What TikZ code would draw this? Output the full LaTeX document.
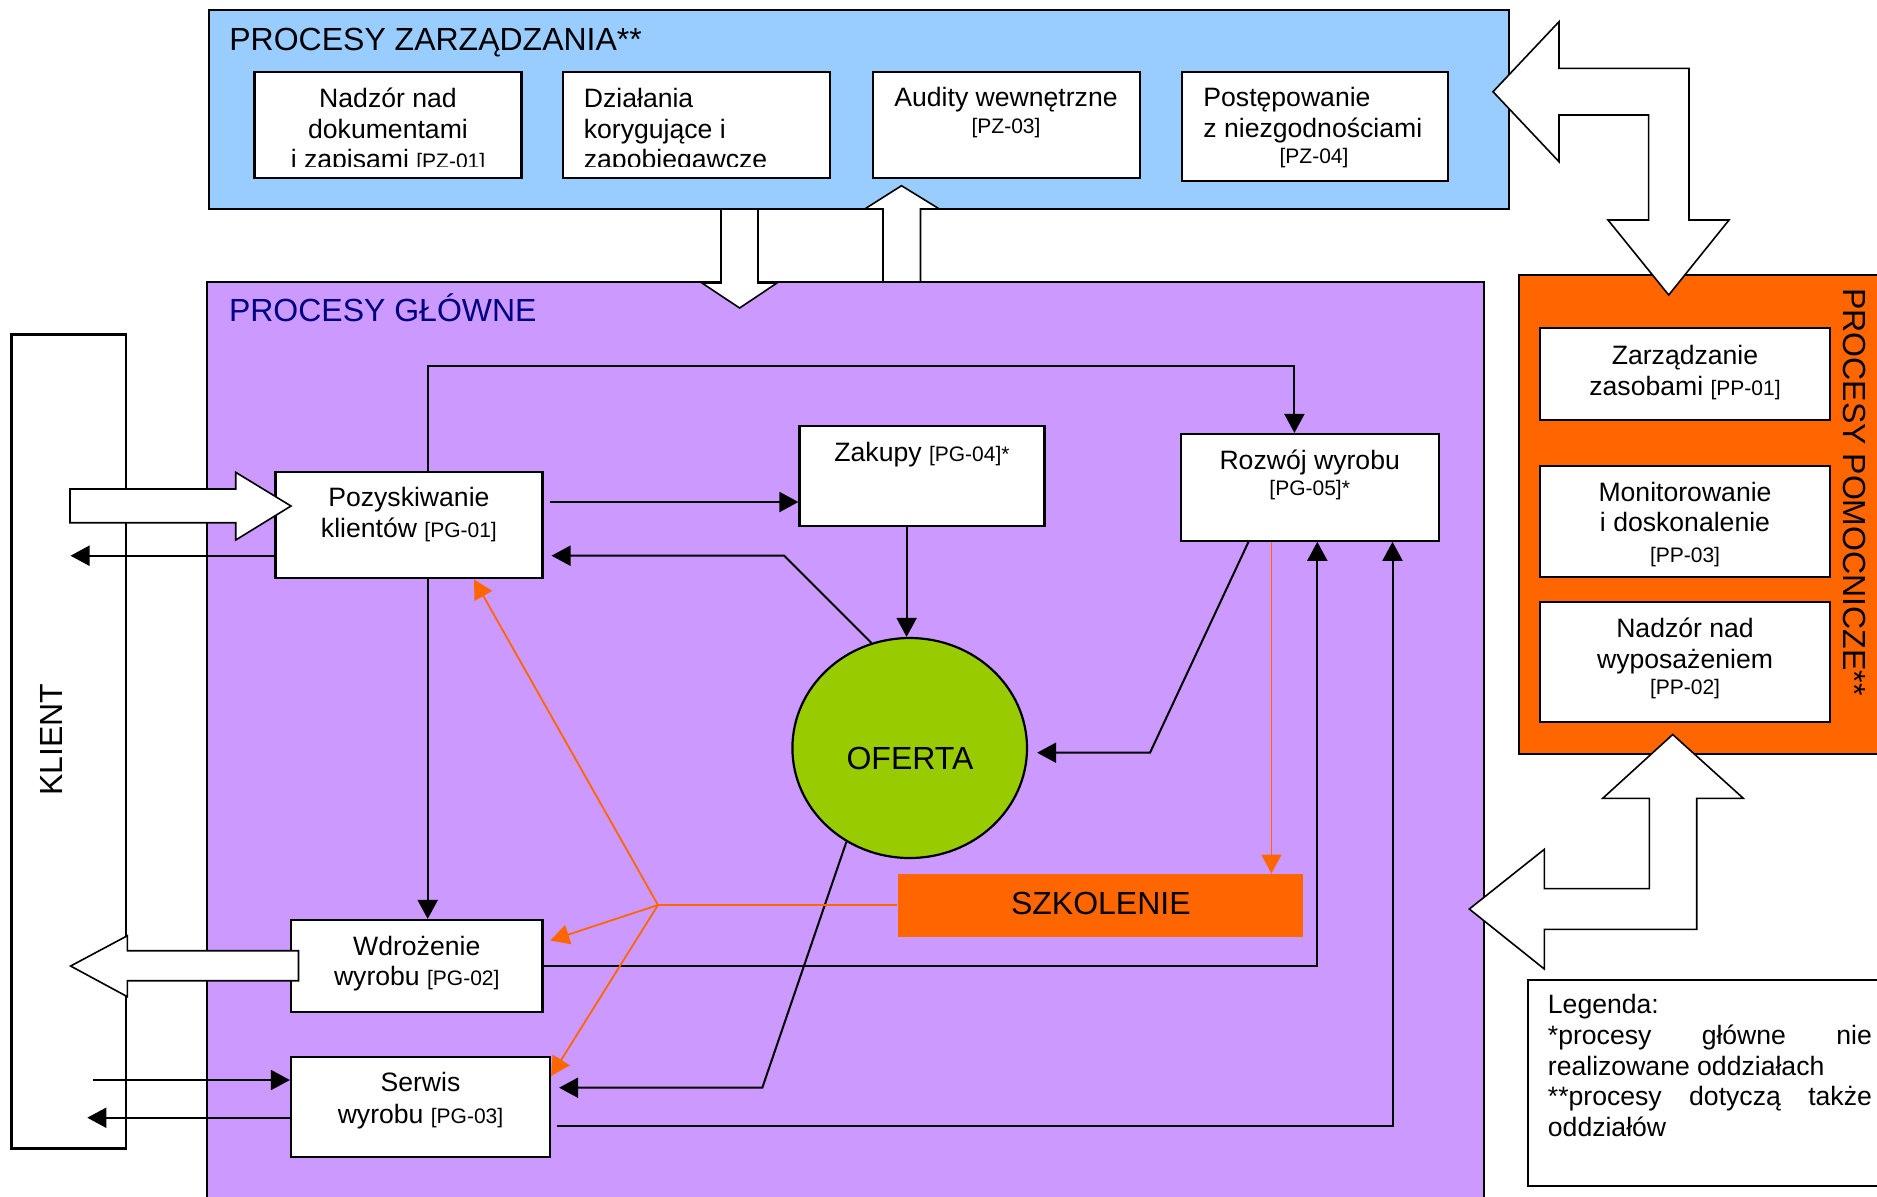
\documentclass[tikz,border=0pt]{standalone}
\usepackage{fontspec}
\setmainfont{Liberation Sans}
\usetikzlibrary{arrows.meta,shapes.geometric}
\definecolor{zarz}{HTML}{99CCFF}
\definecolor{glow}{HTML}{CC99FF}
\definecolor{pomoc}{HTML}{FF6600}
\definecolor{ofertac}{HTML}{99CC00}
\definecolor{granat}{HTML}{000080}
\newcommand\kod{\fontsize{10.5pt}{12pt}\selectfont}

\begin{document}
\begin{tikzpicture}[x=0.5pt,y=-0.5pt,
  panel/.style={draw, line width=1.1pt, inner sep=0pt},
  box/.style={draw, line width=1.1pt, fill=white, inner sep=0pt},
  txt/.style={anchor=base, inner sep=0pt, font=\fontsize{13.3pt}{15.5pt}\selectfont},
  txtl/.style={txt, anchor=base west},
  kodtxt/.style={anchor=base, inner sep=0pt, font=\kod},
  title/.style={inner sep=0pt, font=\fontsize{16pt}{19pt}\selectfont},
  conn/.style={line width=1pt, -{Triangle[length=9.5pt,width=10pt]}},
  oline/.style={draw=pomoc, line width=0.9pt},
  oconn/.style={oline, -{Triangle[length=9.5pt,width=10pt]}},
  blockarrow/.style={draw, fill=white, line width=0.8pt, line join=miter},
]
\useasboundingbox (0,0) rectangle (1877,1196);

% ---- panels ----
\node[panel, fill=zarz, minimum width=650pt, minimum height=99.5pt] (pz) at (859,109.5) {};
\node[panel, fill=glow, minimum width=638.5pt, minimum height=469pt] (pg) at (845.5,751) {};
\node[panel, fill=pomoc, minimum width=190.5pt, minimum height=239.35pt] (pp) at (1709.5,514.65) {};
\node[box, minimum width=57.25pt, minimum height=407pt] (klient) at (68.75,741.5) {};
\node[box, minimum width=186.1pt, minimum height=102.85pt] (leg) at (1713.9,1082.85) {};

% ---- management processes ----
\node[box, minimum width=133.5pt, minimum height=53.3pt] (pz1) at (388,125) {};
\node[box, minimum width=133.5pt, minimum height=53.3pt] (pz2) at (696.5,125) {};
\node[box, minimum width=133.5pt, minimum height=53.3pt] (pz3) at (1006.25,125) {};
\node[box, minimum width=133pt, minimum height=54.65pt] (pz4) at (1315,126.35) {};

% ---- main processes ----
\node[box, minimum width=133.5pt, minimum height=53pt] (pg1) at (408.9,525.3) {};
\node[box, minimum width=122.45pt, minimum height=49.85pt] (pg4) at (921.95,475.85) {};
\node[box, minimum width=129.1pt, minimum height=53.35pt] (pg5) at (1309.7,487.35) {};
\node[box, minimum width=125.75pt, minimum height=46.15pt] (pg2) at (416.75,966.15) {};
\node[box, minimum width=129.5pt, minimum height=49.7pt] (pg3) at (420.5,1107) {};
\node[ellipse, draw, line width=1.1pt, fill=ofertac, minimum width=117.3pt, minimum height=110pt, inner sep=0pt] (of) at (909.7,748) {};
\node[fill=pomoc, minimum width=202.7pt, minimum height=31.35pt, inner sep=0pt] (szk) at (1100.5,905.35) {};

% ---- support processes ----
\node[box, minimum width=145pt, minimum height=46pt] (pp1) at (1685,374) {};
\node[box, minimum width=145pt, minimum height=55.85pt] (pp3) at (1685,521.45) {};
\node[box, minimum width=145pt, minimum height=59.95pt] (pp2) at (1685,661.75) {};

% ---- helper points for connector routes ----
\coordinate (xa) at (427.7,0);
\coordinate (tb1) at (427.7,365.7);
\coordinate (tb2) at (1294.4,365.7);
\coordinate (yb) at (0,502);
\coordinate (xc) at (906.6,0);
\coordinate (ofbend) at (784.2,555.7);
\coordinate (xr) at (1248.5,0);
\coordinate (rzbend) at (1150,752.7);
\coordinate (yf) at (0,966);
\coordinate (xf) at (1317.3,0);
\coordinate (yg) at (0,1125.7);
\coordinate (xg) at (1392.5,0);
\coordinate (klout1) at (70.5,555.7);
\coordinate (klin) at (93,1080);
\coordinate (klout2) at (87.3,1117.7);
\coordinate (ofbend2) at (762.3,1087.7);
\coordinate (xk) at (1271.4,0);
\coordinate (junc) at (658,905);
\coordinate (xl) at (474,0);
\coordinate (ym) at (0,942.7);
\coordinate (yn) at (0,1076);

% ---- connectors ----
\draw[conn, shorten <=3pt] (pg1.east |- yb) -- (pg4.west |- yb);
\draw[conn] (pg1.north -| xa) -- (tb1) -- (tb2) -- (pg5.north -| tb2);
\draw[conn] (pg4.south -| xc) -- (of.north -| xc);
\draw[conn, shorten >=4pt] (of.110.8) -- (ofbend) -- (pg1.east |- ofbend);
\draw[conn, shorten >=4.5pt] (pg5.south -| xr) -- (rzbend) -- (of.east |- rzbend);
\draw[conn] (pg2.east |- yf) -- (xf |- yf) -- (pg5.south -| xf);
\draw[conn, shorten <=3pt] (pg3.east |- yg) -- (xg |- yg) -- (pg5.south -| xg);
\draw[conn] (pg1.south -| xa) -- (pg2.north -| xa);
\draw[conn] (pg1.west |- klout1) -- (klout1);
\draw[conn] (klin) -- (pg3.west |- klin);
\draw[conn] (pg3.west |- klout2) -- (klout2);
\draw[conn, shorten >=4pt] (of.236.35) -- (ofbend2) -- (pg3.east |- ofbend2);

% training links
\draw[oconn, line width=0.5pt] (pg5.south -| xk) -- (szk.north -| xk);
\draw[oline] (szk.west |- junc) -- (junc);
\draw[oconn] (junc) -- (pg1.south -| xl);
\draw[oconn, shorten >=3.5pt] (junc) -- (pg2.east |- ym);
\draw[oconn] (junc) -- (pg3.east |- yn);

% ---- block arrows ----
\draw[blockarrow] (721,209) -- (758,209) -- (758,283) -- (777,283) -- (739.6,308) -- (702,283) -- (721,283) -- cycle;
\draw[blockarrow] (883,282) -- (883,209) -- (864.7,209) -- (901.5,185.7) -- (939.4,209) -- (920.5,209) -- (920.5,282) -- cycle;
\draw[blockarrow] (1493,91.7) -- (1559,21.7) -- (1559,68.3) -- (1689,68.3) -- (1689,220) -- (1729,220) -- (1668.7,295) -- (1608,220) -- (1648.6,220) -- (1648.6,115) -- (1559,115) -- (1559,161.7) -- cycle;
\draw[blockarrow] (1672.7,734.5) -- (1743.3,798.3) -- (1696.7,798.3) -- (1696.7,929.4) -- (1544.3,929.4) -- (1544.3,969) -- (1469.3,909) -- (1544.3,849.3) -- (1544.3,888.6) -- (1649.3,888.6) -- (1649.3,798.3) -- (1602.7,798.3) -- cycle;
\draw[blockarrow] (70,489) -- (235.7,489) -- (235.7,472.3) -- (291,506) -- (235.7,540) -- (235.7,522.7) -- (70,522.7) -- cycle;
\draw[blockarrow] (298.5,950.7) -- (127.4,950.7) -- (127.4,935.7) -- (70.6,966) -- (127.4,996.7) -- (127.4,980.7) -- (298.5,980.7) -- cycle;

% ---- titles ----
\node[title, anchor=base west] (tpz) at (229,50) {PROCESY ZARZĄDZANIA**};
\node[title, anchor=base west, text=granat] (tpg) at (228.6,321.7) {PROCESY GŁÓWNE};
\node[title, anchor=base west, rotate=-90] (tpp) at (1843,288) {PROCESY POMOCNICZE**};
\node[title, anchor=base west, rotate=90] (tkl) at (62.5,796) {KLIENT};
\node[title, anchor=base] (tof) at (910,769) {OFERTA};
\node[title, anchor=base] (tsz) at (1100.8,914) {SZKOLENIE};

% ---- texts of management boxes (clipped at the inner margin) ----
\begin{scope}
\clip (254.5,71.7) rectangle (521.5,166.5);
\node[txt] (pz1a) at (388,107) {Nadzór nad};
\node[txt] (pz1b) at (388,138) {dokumentami};
\node[txt] (pz1c) at (388,168) {i zapisami {\kod [PZ-01]}};
\end{scope}
\begin{scope}
\clip (563,71.7) rectangle (830,166.5);
\node[txtl] (pz2a) at (583.5,107) {Działania};
\node[txtl] (pz2b) at (583.5,138) {korygujące i};
\node[txtl] (pz2c) at (583.5,168) {zapobiegawcze};
\end{scope}
\node[txt] (pz3a) at (1006,106) {Audity wewnętrzne};
\node[kodtxt] (pz3b) at (1006,133) {[PZ-03]};
\node[txtl] (pz4a) at (1203,106) {Postępowanie};
\node[txtl] (pz4b) at (1203,137) {z niezgodnościami};
\node[kodtxt] (pz4c) at (1314,163) {[PZ-04]};

% ---- texts of main process boxes ----
\node[txt] (pg1a) at (408.9,506.7) {Pozyskiwanie};
\node[txt] (pg1b) at (408.9,537.3) {klientów {\kod [PG-01]}};
\node[txt] (pg4a) at (922,461.7) {Zakupy {\kod [PG-04]*}};
\node[txt] (pg5a) at (1309.7,469.3) {Rozwój wyrobu};
\node[kodtxt] (pg5b) at (1309.7,495) {[PG-05]*};
\node[txt] (pg2a) at (416.75,955) {Wdrożenie};
\node[txt] (pg2b) at (416.75,985) {wyrobu {\kod [PG-02]}};
\node[txt] (pg3a) at (420.5,1091.7) {Serwis};
\node[txt] (pg3b) at (420.5,1123.3) {wyrobu {\kod [PG-03]}};

% ---- texts of support process boxes ----
\node[txt] (pp1a) at (1685,364.6) {Zarządzanie};
\node[txt] (pp1b) at (1685,395) {zasobami {\kod [PP-01]}};
\node[txt] (pp3a) at (1685,501.3) {Monitorowanie};
\node[txt] (pp3b) at (1685,531.4) {i doskonalenie};
\node[kodtxt] (pp3c) at (1685,562) {[PP-03]};
\node[txt] (pp2a) at (1685,637.6) {Nadzór nad};
\node[txt] (pp2b) at (1685,668) {wyposażeniem};
\node[kodtxt] (pp2c) at (1685,694.7) {[PP-02]};

% ---- legend ----
\node[txtl] (lg1) at (1547.5,1013.3) {Legenda:};
\node[txtl] (lg2) at (1547.5,1044) {\hbox to 162pt{*procesy\hfill główne\hfill nie}};
\node[txtl] (lg3) at (1547.5,1075) {realizowane oddziałach};
\node[txtl] (lg4) at (1547.5,1105) {\hbox to 162pt{**procesy\hfill dotyczą\hfill także}};
\node[txtl] (lg5) at (1547.5,1136.7) {oddziałów};
\end{tikzpicture}
\end{document}
